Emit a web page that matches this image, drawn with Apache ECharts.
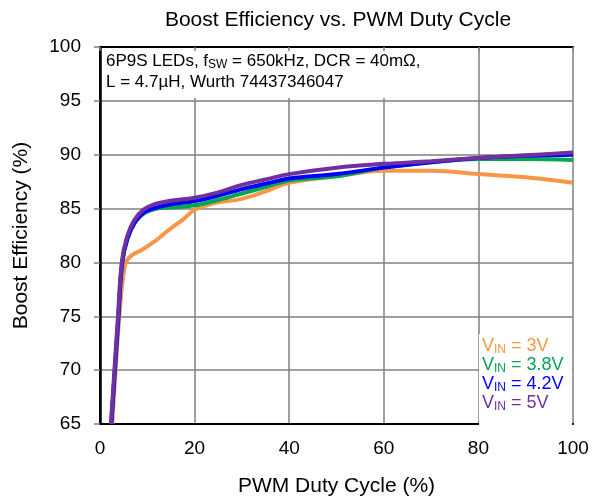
<!DOCTYPE html>
<html>
<head>
<meta charset="utf-8">
<script src="https://cdn.jsdelivr.net/npm/echarts@6/dist/echarts.min.js"></script>
<style>
  html, body { margin: 0; padding: 0; background: #fff; }
  #chart { width: 601px; height: 502px; }
</style>
</head>
<body>
<div id="chart"></div>
<script>
// PWM duty cycle (%) and boost efficiency (%), one pair of arrays per VIN
const duty3V = [2.6, 4.1, 5.3, 6.5, 9, 12.3, 14.8, 17.6, 20, 24, 30, 35, 40, 50, 60, 70, 80, 90, 100]
const eff3V = [65, 75, 79.8, 80.6, 81.2, 82.2, 83.1, 84.0, 84.9, 85.5, 85.9, 86.6, 87.4, 88.0, 88.5, 88.5, 88.2, 87.9, 87.4]

const duty38V = [2.4, 3.9, 4.7, 5.8, 7.5, 9.5, 12, 15, 20, 25, 30, 35, 40, 50, 60, 70, 80, 90, 100]
const eff38V = [65, 75, 80, 82.2, 83.8, 84.6, 85.0, 85.1, 85.3, 85.8, 86.4, 87.0, 87.6, 88.0, 88.8, 89.3, 89.6, 89.6, 89.5]

const duty42V = [2.4, 3.9, 4.7, 5.8, 7.5, 9.5, 12, 15, 20, 25, 30, 35, 40, 50, 60, 70, 80, 90, 100]
const eff42V = [65, 75, 80, 82.2, 83.8, 84.7, 85.1, 85.4, 85.7, 86.2, 86.8, 87.3, 87.8, 88.2, 88.8, 89.3, 89.7, 89.9, 90.0]

const duty5V = [2.3, 3.8, 4.6, 5.6, 7.2, 9.2, 11.5, 14.5, 20, 25, 30, 35, 40, 50, 60, 70, 80, 90, 100]
const eff5V = [65, 75, 80, 82.2, 83.9, 84.9, 85.4, 85.7, 86.0, 86.5, 87.2, 87.7, 88.2, 88.8, 89.15, 89.4, 89.7, 89.95, 90.2]

const seriesNames = ['3V', '3.8V', '4.2V', '5V']
const seriesColors = ['#f79646', '#00a650', '#0000ff', '#7030a0']

const xTicks = { min: 0, max: 100, interval: 20 }
const yTicks = { min: 65, max: 100, interval: 5 }

const font = 'Liberation Sans, Arial, sans-serif'

function pairs(xs, ys) {
  return xs.map((x, i) => [x, ys[i]])
}

const curves = [
  pairs(duty3V, eff3V),
  pairs(duty38V, eff38V),
  pairs(duty42V, eff42V),
  pairs(duty5V, eff5V)
]

const chart = echarts.init(document.getElementById('chart'), null, { renderer: 'canvas' })

const legendRich = {}
seriesColors.forEach((c, i) => {
  legendRich['v' + i] = { fontSize: 18, fontFamily: font, fill: c, lineHeight: 19 }
  legendRich['s' + i] = { fontSize: 12, fontFamily: font, fill: c, padding: [8, 0, 0, 0], lineHeight: 19 }
})

chart.setOption({
  animation: false,
  title: {
    text: 'Boost Efficiency vs. PWM Duty Cycle',
    left: 333,
    top: 5,
    textAlign: 'center',
    textStyle: { fontSize: 21, fontWeight: 'normal', color: '#000', fontFamily: font }
  },
  grid: { left: 100, right: 28, top: 47, bottom: 76, show: false },
  xAxis: [{
    type: 'value',
    min: xTicks.min,
    max: xTicks.max,
    interval: xTicks.interval,
    name: 'PWM Duty Cycle (%)',
    nameLocation: 'middle',
    nameGap: 52,
    nameTextStyle: { fontSize: 21, color: '#000', fontFamily: font },
    axisLine: { show: true, lineStyle: { color: '#000', width: 2 } },
    axisTick: { show: false },
    axisLabel: { fontSize: 19, color: '#000', margin: 15, fontFamily: font },
    splitLine: { show: true, lineStyle: { color: '#808080', width: 1.5 } }
  }, {
    type: 'value',
    position: 'top',
    min: xTicks.min,
    max: xTicks.max,
    interval: xTicks.interval,
    z: 10,
    axisLine: { show: true, lineStyle: { color: '#000', width: 2 } },
    axisTick: { show: true, inside: true, length: 4, lineStyle: { color: '#808080', width: 1.5 } },
    axisLabel: { show: false },
    splitLine: { show: false }
  }],
  yAxis: [{
    type: 'value',
    min: yTicks.min,
    max: yTicks.max,
    interval: yTicks.interval,
    name: 'Boost Efficiency (%)',
    nameLocation: 'middle',
    nameGap: 68,
    nameTextStyle: { fontSize: 21, color: '#000', fontFamily: font },
    axisLine: { show: true, lineStyle: { color: '#000', width: 2 } },
    axisTick: { show: false },
    axisLabel: { fontSize: 19, color: '#000', margin: 19, fontFamily: font },
    splitLine: { show: true, lineStyle: { color: '#808080', width: 1.5 } }
  }, {
    type: 'value',
    position: 'right',
    min: yTicks.min,
    max: yTicks.max,
    interval: yTicks.interval,
    z: 10,
    axisLine: { show: true, lineStyle: { color: '#000', width: 2.5 } },
    axisTick: { show: true, inside: true, length: 6, lineStyle: { color: '#808080', width: 1.5 } },
    axisLabel: { show: false },
    splitLine: { show: false }
  }],
  graphic: [
    {
      type: 'rect',
      z: 5,
      shape: { x: 101, y: 48, width: 340, height: 50 },
      style: { fill: '#fff' }
    },
    {
      type: 'text',
      z: 6,
      left: 106,
      top: 52,
      style: {
        text: '{t|6P9S LEDs, f}{s|SW}{t| = 650kHz, DCR = 40mΩ,}\n{t|L = 4.7µH, Wurth 74437346047}',
        rich: {
          t: { fontSize: 17, fontFamily: font, fill: '#000', lineHeight: 21 },
          s: { fontSize: 12, fontFamily: font, fill: '#000', padding: [7, 0, 0, 0], lineHeight: 21 }
        }
      }
    },
    {
      type: 'rect',
      z: 5,
      shape: { x: 479, y: 334, width: 93, height: 91 },
      style: { fill: '#fff' }
    },
    {
      type: 'text',
      z: 6,
      left: 482,
      top: 336,
      style: {
        text: seriesNames.map((n, i) => '{v' + i + '|V}{s' + i + '|IN}{v' + i + '| = ' + n + '}').join('\n'),
        rich: legendRich
      }
    }
  ],
  series: curves.map((d, i) => ({
    name: 'VIN = ' + seriesNames[i],
    type: 'line',
    data: d,
    smooth: 0.4,
    showSymbol: false,
    lineStyle: { color: seriesColors[i], width: 4 },
    itemStyle: { color: seriesColors[i] },
    z: 2 + i
  }))
})
</script>
</body>
</html>
